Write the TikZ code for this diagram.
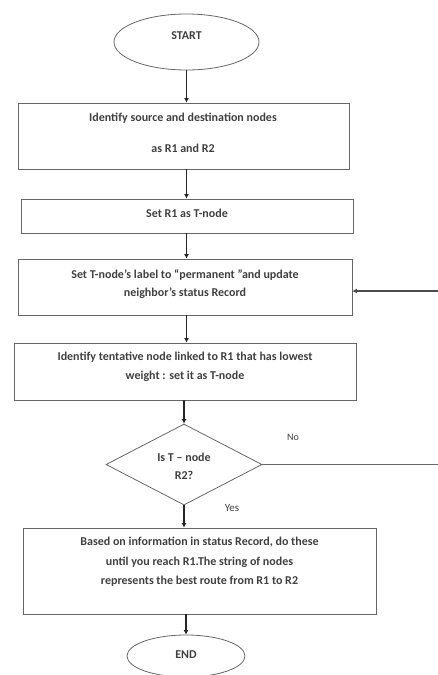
\documentclass[tikz,border=0pt]{standalone}
\usepackage{fontspec}
\setmainfont{Carlito}
\usetikzlibrary{shapes.geometric,arrows.meta}
\begin{document}
\begin{tikzpicture}[x=1pt,y=-1pt,
  box/.style={draw=black!60,line width=0.8pt,rectangle,inner sep=0pt},
  oval/.style={draw=black!60,line width=0.8pt,ellipse,inner sep=0pt},
  dia/.style={draw=black!60,line width=0.8pt,diamond,inner sep=0pt},
  txt/.style={font=\bfseries\fontsize{12}{14}\selectfont,text=black!75,align=center},
  flow/.style={line width=1.8pt,black!85,-{Latex[length=4.5pt,width=5pt]}},
  side/.style={line width=1.2pt,black!70,-{Latex[length=4.5pt,width=5pt]}},
  plain/.style={line width=0.8pt,black!60}]
\useasboundingbox (0,0) rectangle (438,675);
\node[oval,minimum width=145pt,minimum height=56pt] (start) at (186.5,42) {};
\node[txt] at (186.5,36) {START};
\node[box,minimum width=331pt,minimum height=66pt] (b1) at (183.5,136) {};
\node[txt] at (183,118) {Identify source and destination nodes};
\node[txt] at (183,148) {as R1 and R2};
\node[box,minimum width=332pt,minimum height=34pt] (b2) at (187,216) {};
\node[txt] at (187,213) {Set R1 as T-node};
\node[box,minimum width=334pt,minimum height=56pt] (b3) at (185,287) {};
\node[txt] at (185,275) {Set T-node's label to ``permanent ''and update};
\node[txt] at (185,293) {neighbor's status Record};
\node[box,minimum width=342pt,minimum height=57pt] (b4) at (185,371.5) {};
\node[txt] at (185,357) {Identify tentative node linked to R1 that has lowest};
\node[txt] at (185,376) {weight : set it as T-node};
\node[dia,minimum width=156pt,minimum height=81pt] (d) at (184,464.5) {};
\node[txt] at (184,457) {Is T -- node};
\node[txt] at (184,475) {R2?};
\node[txt,font=\fontsize{10}{12}\selectfont] (no) at (293,437) {No};
\node[txt,font=\fontsize{11}{13}\selectfont] (yes) at (232,508) {Yes};
\node[box,minimum width=353pt,minimum height=86pt] (b5) at (199.5,571) {};
\node[txt] at (199.5,542) {Based on information in status Record, do these};
\node[txt] at (199.5,562) {until you reach R1.The string of nodes};
\node[txt] at (199.5,581) {represents the best route from R1 to R2};
\node[oval,minimum width=118pt,minimum height=42pt] (end) at (186,656) {};
\node[txt] at (186,655) {END};
\coordinate (e1) at (438,464.5);
\coordinate (e2) at (438,291);
\draw[flow] (start.south) -- (start.south |- b1.north);
\draw[flow] (b1.south -| start.south) -- (start.south |- b2.north);
\draw[flow] (b2.south -| start.south) -- (start.south |- b3.north);
\draw[flow] (b3.south -| start.south) -- (start.south |- b4.north);
\draw[flow] (b4.south -| d.north) -- (d.north);
\draw[flow] (d.south) -- (d.south |- b5.north);
\draw[flow] (b5.south -| end.north) -- (end.north);
\draw[plain] (d.east) -- (e1);
\draw[side] (e2) -- (e2 -| b3.east);
\end{tikzpicture}
\end{document}
